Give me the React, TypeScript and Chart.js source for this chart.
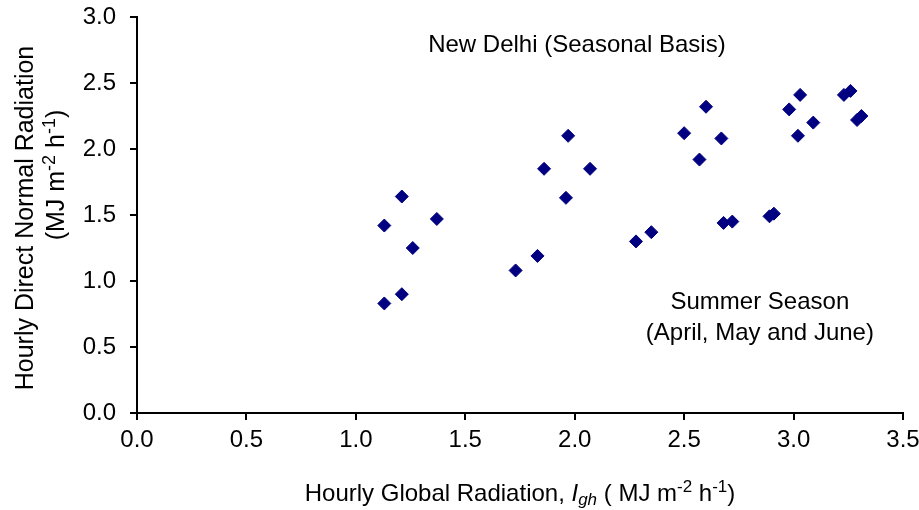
import React, { useEffect, useRef } from "react";
import { Chart, registerables } from "chart.js";

Chart.register(...registerables);

const globalRadiation: number[] = [
  1.13, 1.21, 1.26, 1.37, 1.13, 1.21,
  1.73, 1.83, 1.96, 1.86, 1.97, 2.07,
  2.28, 2.35, 2.50, 2.57, 2.60, 2.67, 2.68, 2.72, 2.89, 2.91,
  2.98, 3.02, 3.03, 3.09, 3.23, 3.26, 3.29, 3.31,
];
const directNormal: number[] = [
  1.42, 1.64, 1.25, 1.47, 0.83, 0.90,
  1.08, 1.19, 1.63, 1.85, 2.10, 1.85,
  1.30, 1.37, 2.12, 1.92, 2.32, 2.08, 1.44, 1.45, 1.49, 1.51,
  2.30, 2.10, 2.41, 2.20, 2.41, 2.44, 2.22, 2.25,
];
const xTicks: number[] = [0, 0.5, 1, 1.5, 2, 2.5, 3, 3.5];
const yTicks: number[] = [0, 0.5, 1, 1.5, 2, 2.5, 3];
const titleText = "New Delhi (Seasonal Basis)";
const seasonLines: string[] = ["Summer Season", "(April, May and June)"];

const FONT = '"Liberation Sans", Arial, sans-serif';
const FS = 24;

type Seg = { t: string; it?: boolean; sup?: boolean; sub?: boolean };

const xTitle: Seg[] = [
  { t: "Hourly Global Radiation, " },
  { t: "I", it: true },
  { t: "gh", it: true, sub: true },
  { t: " ( MJ m" },
  { t: "-2", sup: true },
  { t: " h" },
  { t: "-1", sup: true },
  { t: ")" },
];
const yTitle1: Seg[] = [{ t: "Hourly Direct Normal Radiation" }];
const yTitle2: Seg[] = [
  { t: "(MJ m" },
  { t: "-2", sup: true },
  { t: " h" },
  { t: "-1", sup: true },
  { t: ")" },
];

function segFont(s: Seg, size: number) {
  const sz = s.sup || s.sub ? Math.round(size * 0.7) : size;
  return `${s.it ? "italic " : ""}${sz}px ${FONT}`;
}

function drawRich(ctx: CanvasRenderingContext2D, segs: Seg[], cx: number, cy: number, size: number) {
  let total = 0;
  const widths = segs.map((s) => {
    ctx.font = segFont(s, size);
    const w = ctx.measureText(s.t).width;
    total += w;
    return w;
  });
  let x = cx - total / 2;
  ctx.textAlign = "left";
  ctx.textBaseline = "alphabetic";
  const base = cy + size * 0.36;
  segs.forEach((s, i) => {
    ctx.font = segFont(s, size);
    let y = base;
    if (s.sup) y = base - size * 0.36;
    if (s.sub) y = base + size * 0.2;
    ctx.fillText(s.t, x, y);
    x += widths[i];
  });
}

const textPlugin = {
  id: "richText",
  afterDraw(chart: any) {
    const ctx: CanvasRenderingContext2D = chart.ctx;
    const xs = chart.scales.x;
    const ys = chart.scales.y;
    ctx.save();
    ctx.fillStyle = "#000";
    drawRich(ctx, xTitle, 520, 492, FS);
    ctx.save();
    ctx.translate(24, 218);
    ctx.rotate(-Math.PI / 2);
    drawRich(ctx, yTitle1, 0, 0, 25);
    ctx.restore();
    ctx.save();
    ctx.translate(55, 175);
    ctx.rotate(-Math.PI / 2);
    drawRich(ctx, yTitle2, 0, 0, 25);
    ctx.restore();
    ctx.font = `${FS}px ${FONT}`;
    ctx.textAlign = "center";
    ctx.textBaseline = "middle";
    ctx.fillText(titleText, xs.getPixelForValue(2.01), ys.getPixelForValue(2.788));
    ctx.fillText(seasonLines[0], xs.getPixelForValue(2.846), ys.getPixelForValue(0.84));
    ctx.fillText(seasonLines[1], xs.getPixelForValue(2.846), ys.getPixelForValue(0.6));
    ctx.restore();
  },
};

export default function App() {
  const ref = useRef<HTMLCanvasElement | null>(null);
  useEffect(() => {
    document.body.style.margin = "0";
    const canvas = ref.current!;
    const data = globalRadiation.map((x, i) => ({ x, y: directNormal[i] }));
    const zeroPad = (s: any) => {
      s.paddingTop = 0;
      s.paddingBottom = 0;
      s.paddingLeft = 0;
      s.paddingRight = 0;
    };
    const chart = new Chart(canvas, {
      type: "scatter",
      data: {
        datasets: [
          {
            data,
            pointStyle: "rectRot",
            pointRadius: 6.5,
            pointHoverRadius: 6.5,
            backgroundColor: "#000080",
            borderColor: "#000080",
            borderWidth: 1,
          },
        ],
      },
      options: {
        responsive: false,
        animation: false,
        events: [],
        layout: { padding: { top: 17, right: 16, left: 0, bottom: 0 } },
        plugins: { legend: { display: false }, tooltip: { enabled: false } },
        scales: {
          x: {
            type: "linear",
            min: 0,
            max: 3.5,
            afterBuildTicks: (s: any) => {
              s.ticks = xTicks.map((v) => ({ value: v }));
            },
            afterFit: (s: any) => {
              s.height = 97;
              zeroPad(s);
            },
            ticks: {
              color: "#000",
              font: { family: FONT, size: FS },
              padding: 6,
              maxRotation: 0,
              autoSkip: false,
              callback: (v: any) => Number(v).toFixed(1),
            },
            grid: {
              display: true,
              drawOnChartArea: false,
              drawTicks: true,
              tickLength: 7,
              color: "#000",
              lineWidth: 2,
            },
            border: { display: true, color: "#000", width: 2 },
          },
          y: {
            type: "linear",
            min: 0,
            max: 3,
            afterBuildTicks: (s: any) => {
              s.ticks = yTicks.map((v) => ({ value: v }));
            },
            afterFit: (s: any) => {
              s.width = 137;
              zeroPad(s);
            },
            ticks: {
              color: "#000",
              font: { family: FONT, size: FS },
              padding: 14,
              autoSkip: false,
              callback: (v: any) => Number(v).toFixed(1),
            },
            grid: {
              display: true,
              drawOnChartArea: false,
              drawTicks: true,
              tickLength: 7,
              color: "#000",
              lineWidth: 2,
            },
            border: { display: true, color: "#000", width: 2 },
          },
        },
      },
      plugins: [textPlugin],
    });
    return () => chart.destroy();
  }, []);
  return (
    <div style={{ width: 919, height: 510, background: "#fff" }}>
      <canvas ref={ref} width={919} height={510} />
    </div>
  );
}
